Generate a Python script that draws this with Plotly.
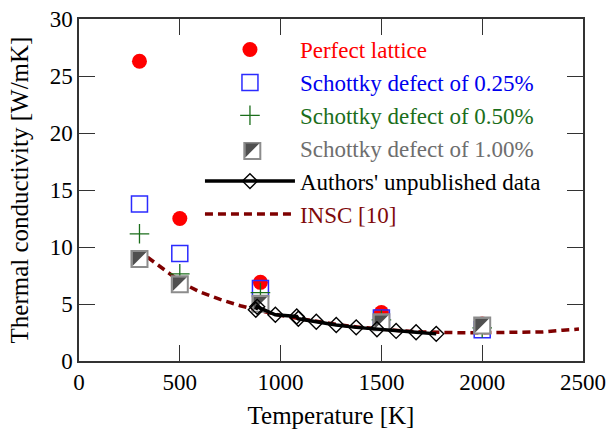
import plotly.graph_objects as go

# ---------------- data ----------------
temp_sim = [300, 500, 900, 1500, 2000]
k_perfect = [26.3, 12.5, 6.9, 4.26, 3.25]
k_s025 = [13.77, 9.43, 6.35, 3.78, 2.75]
k_s050 = [11.16, 7.65, 6.0, 3.6, 2.9]
k_s100 = [8.94, 6.74, 5.03, 3.4, 3.12]

temp_authors = [877, 884, 974, 1080, 1088, 1177, 1276, 1375, 1478, 1573, 1672, 1772]
k_authors = [4.5, 4.75, 4.05, 3.9, 3.7, 3.45, 3.15, 2.95, 2.78, 2.64, 2.52, 2.38]

temp_insc = [340, 400, 450, 500, 550, 600, 700, 800, 900, 1000, 1100, 1200, 1300,
             1400, 1500, 1600, 1700, 1800, 1900, 2000, 2100, 2200, 2300, 2400, 2480]
k_insc = [9.1, 8.3, 7.6, 7.0, 6.5, 6.05, 5.4, 4.85, 4.4, 4.0, 3.7, 3.4, 3.15,
          2.95, 2.78, 2.65, 2.55, 2.5, 2.48, 2.48, 2.48, 2.5, 2.55, 2.7, 2.8]

x_ticks = [0, 500, 1000, 1500, 2000, 2500]
y_ticks = [0, 5, 10, 15, 20, 25, 30]

# ---------------- layout constants ----------------
W, H = 606, 430
ML, MR, MT, MB = 79, 23, 19, 69
PW, PH = W - ML - MR, H - MT - MB
XR, YR = [0, 2500], [0, 30]
FONT = "Liberation Serif, Times New Roman, serif"
LEG_FS = 23
LEG_X, LEG_Y, LEG_IW = 0.240, 0.9735, 90
GRAY_EDGE, GRAY_DARK = "#8c8c8c", "#505050"

# half-filled square: triangle-nw marker shifted so its right angle sits in the square's corner
SQ = 16
TRI = 15.5
corner = 0.3 * TRI            # triangle right-angle corner distance from its own centre
shift_px = corner - (SQ / 2 - 1)  # negative -> move left / up
dx = shift_px * (XR[1] - XR[0]) / PW
dy = -shift_px * (YR[1] - YR[0]) / PH
tri_x = [t + dx for t in temp_sim]
tri_y = [k + dy for k in k_s100]

def lab(txt, col):
    return f'<span style="color:{col}">{txt}</span>'

fig = go.Figure()

fig.add_trace(go.Scatter(
    x=temp_insc, y=k_insc, mode="lines", name=lab("INSC [10]", "#7f0a0a"),
    line=dict(color="#7f0000", width=3.5, dash="8px,5px"), legendrank=6))

fig.add_trace(go.Scatter(
    x=temp_sim, y=k_perfect, mode="markers", name=lab("Perfect lattice", "#ff0000"),
    marker=dict(symbol="circle", size=15, color="#ff0000", line=dict(width=0)), legendrank=1))

fig.add_trace(go.Scatter(
    x=temp_sim, y=k_s025, mode="markers", name=lab("Schottky defect of 0.25%", "#0000ee"),
    marker=dict(symbol="square-open", size=SQ, color="#2b2bff", line=dict(width=1.5)), legendrank=2))

fig.add_trace(go.Scatter(
    x=temp_sim, y=k_s050, mode="markers", name=lab("Schottky defect of 0.50%", "#1b6e1b"),
    marker=dict(symbol="cross-thin", size=14, color="#1b6e1b",
                line=dict(width=1.3, color="#1b6e1b")), legendrank=3))

# 1.00 %: white square with grey edge + dark upper-left half
fig.add_trace(go.Scatter(
    x=temp_sim, y=k_s100, mode="markers", showlegend=False, hoverinfo="skip",
    legendgroup="s100",
    marker=dict(symbol="square", size=SQ, color="white", line=dict(width=2, color=GRAY_EDGE))))

fig.add_trace(go.Scatter(
    x=tri_x, y=tri_y, mode="markers", name=lab("Schottky defect of 1.00%", "#6e6e6e"),
    legendgroup="s100", legendrank=4,
    customdata=k_s100, hovertemplate="%{customdata}<extra></extra>",
    marker=dict(symbol="triangle-nw", size=TRI, color=GRAY_DARK, line=dict(width=0))))

fig.add_trace(go.Scatter(
    x=temp_authors, y=k_authors, mode="lines+markers", name="Authors' unpublished data",
    line=dict(color="black", width=3.5),
    marker=dict(symbol="diamond-open", size=11.5, color="black", line=dict(width=1.4)),
    legendrank=5))

axis_common = dict(
    ticks="inside", ticklen=16, tickwidth=1.2, tickcolor="#333333",
    showline=True, linecolor="#333333", linewidth=1.5, mirror="ticks",
    showgrid=False, zeroline=False, automargin=False,
    tickfont=dict(family=FONT, size=23, color="black"),
)

# grey square edge around the legend triangle icon of the 1.00% entry (legend decoration)
item_h = LEG_FS * 1.3 + 3
leg_top_px = MT + (1 - LEG_Y) * PH
row4_px = leg_top_px + item_h / 2 + 5.5 + 3 * item_h
icon_x = LEG_X + ((LEG_IW + 10) / 2) / PW
icon_y = 1 - (row4_px - MT) / PH
lo = -(corner + 1)
hi = lo + SQ
sq_path = f"M{lo},{-lo} L{hi},{-lo} L{hi},{-hi} L{lo},{-hi} Z"

fig.update_layout(
    width=W, height=H,
    margin=dict(l=ML, r=MR, t=MT, b=MB, pad=0, autoexpand=False),
    paper_bgcolor="white", plot_bgcolor="white",
    font=dict(family=FONT, size=22, color="black"),
    xaxis=dict(range=XR, tickvals=x_ticks, title=dict(text="Temperature [K]", standoff=12,
               font=dict(family=FONT, size=25)), **axis_common),
    yaxis=dict(range=YR, tickvals=y_ticks, title=dict(text="Thermal conductivity [W/mK]", standoff=14,
               font=dict(family=FONT, size=25)), **axis_common),
    legend=dict(x=LEG_X, y=LEG_Y, xanchor="left", yanchor="top", bgcolor="rgba(0,0,0,0)",
                font=dict(family=FONT, size=LEG_FS), itemwidth=LEG_IW, tracegroupgap=0,
                traceorder="normal"),
    shapes=[dict(type="path", xref="paper", yref="paper", xsizemode="pixel", ysizemode="pixel",
                 xanchor=icon_x, yanchor=icon_y, path=sq_path,
                 fillcolor="rgba(0,0,0,0)", line=dict(width=2, color=GRAY_EDGE), layer="above")],
    showlegend=True,
)

fig.write_html("out.html")
